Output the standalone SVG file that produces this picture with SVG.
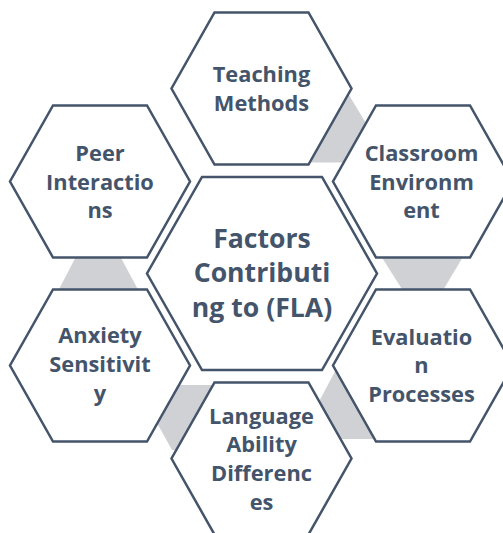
<svg xmlns="http://www.w3.org/2000/svg" width="503" height="533" viewBox="0 0 503 533">
  <style>
    .hex { fill: #ffffff; stroke: #44546a; stroke-width: 2.5; stroke-linejoin: miter; }
    .link { fill: #d0d1d5; stroke: none; }
    .lbl { font-family: "Open Sans", "Liberation Sans", sans-serif; font-weight: bold; fill: #44546a; text-anchor: middle; }
    .outer { font-size: 21.8px; }
    .core { font-size: 26.6px; }
  </style>
  <rect width="503" height="533" fill="#ffffff"/>

  <!-- gray joints between neighbouring outer hexagons (drawn underneath) -->
  <g id="connectors">
    <polygon class="link" points="343,85 367,125 345,162.5 305,162.5 320,85"/>
    <polygon class="link" points="374,245 470,245 439,297 407,297"/>
    <polygon class="link" points="340,362 314,411 330,439 390,439 390,362"/>
    <polygon class="link" points="136,385 230,385 230,450 172,450"/>
    <polygon class="link" points="82,245 114,245 142,297 55,297"/>
  </g>

  <g id="center">
    <polygon class="hex" points="202,177 322,177 377,273.5 322,370 202,370 147,273.5"/>
    <text class="lbl core" x="262" y="248">Factors</text>
    <text class="lbl core" x="262" y="282">Contributi</text>
    <text class="lbl core" x="262" y="316.5">ng to (FLA)</text>
  </g>

  <g id="teaching">
    <polygon class="hex" points="214.5,12.5 308.5,12.5 351.5,88.5 308.5,164.5 214.5,164.5 171.5,88.5"/>
    <text class="lbl outer" x="261.5" y="82">Teaching</text>
    <text class="lbl outer" x="261.5" y="110.5">Methods</text>
  </g>

  <g id="classroom">
    <polygon class="hex" points="376,105.5 470,105.5 513,181.5 470,257.5 376,257.5 333,181.5"/>
    <text class="lbl outer" x="421.5" y="161">Classroom</text>
    <text class="lbl outer" x="421.5" y="189.5">Environm</text>
    <text class="lbl outer" x="421.5" y="218">ent</text>
  </g>

  <g id="evaluation">
    <polygon class="hex" points="376,289.5 470,289.5 513,365.5 470,441.5 376,441.5 333,365.5"/>
    <text class="lbl outer" x="421.5" y="344.5">Evaluatio</text>
    <text class="lbl outer" x="421.5" y="373">n</text>
    <text class="lbl outer" x="421.5" y="401.5">Processes</text>
  </g>

  <g id="language">
    <polygon class="hex" points="214.5,382.5 308.5,382.5 351.5,458.5 308.5,534.5 214.5,534.5 171.5,458.5"/>
    <text class="lbl outer" x="261.5" y="423.5">Language</text>
    <text class="lbl outer" x="261.5" y="452">Ability</text>
    <text class="lbl outer" x="261.5" y="480.5">Differenc</text>
    <text class="lbl outer" x="261.5" y="509.5">es</text>
  </g>

  <g id="anxiety">
    <polygon class="hex" points="53,289.5 147,289.5 190,365.5 147,441.5 53,441.5 10,365.5"/>
    <text class="lbl outer" x="100" y="343">Anxiety</text>
    <text class="lbl outer" x="100" y="372">Sensitivit</text>
    <text class="lbl outer" x="100" y="401">y</text>
  </g>

  <g id="peer">
    <polygon class="hex" points="53,105.5 147,105.5 190,181.5 147,257.5 53,257.5 10,181.5"/>
    <text class="lbl outer" x="100" y="161">Peer</text>
    <text class="lbl outer" x="100" y="190">Interactio</text>
    <text class="lbl outer" x="100" y="218">ns</text>
  </g>
</svg>
